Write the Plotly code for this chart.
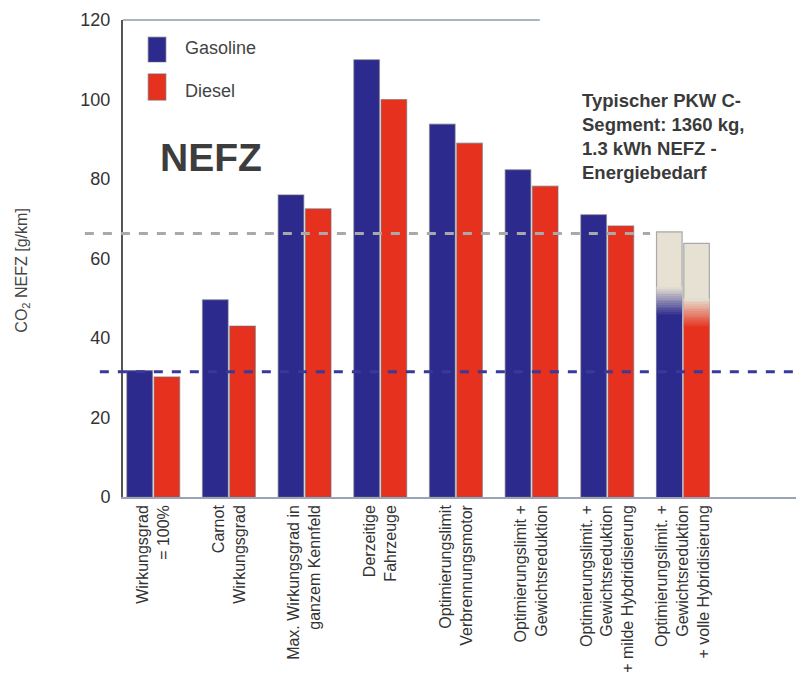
import plotly.graph_objects as go

# categories (x tick labels)
categories = [
    "Wirkungsgrad<br>= 100%",
    "Carnot<br>Wirkungsgrad",
    "Max. Wirkungsgrad in<br>ganzem Kennfeld",
    "Derzeitige<br>Fahrzeuge",
    "Optimierungslimit<br>Verbrennungsmotor",
    "Optimierungslimit +<br>Gewichtsreduktion",
    "Optimierungslimit. +<br>Gewichtsreduktion<br>+ milde Hybdridisierung",
    "Optimierungslimit. +<br>Gewichtsreduktion<br>+ volle Hybridisierung",
]

# CO2 NEFZ [g/km]
gasoline = [31.8, 49.6, 76.0, 110.0, 93.8, 82.3, 71.0, 66.7]
diesel = [30.2, 43.0, 72.5, 100.0, 89.0, 78.2, 68.2, 63.8]

# full hybrid: solid part and where the fade to the cream top ends
hybrid_solid_gasoline = 45.8
hybrid_fade_gasoline = 52.9
hybrid_solid_diesel = 42.8
hybrid_fade_diesel = 50.0

# dashed reference levels
level_grey = 66.3
level_blue = 31.5

BLUE = "#2d2a8e"
RED = "#e5311d"
CREAM = "#e6e1d2"
EDGE = "rgba(110,110,120,0.55)"


def hex_to_rgb(h):
    h = h.lstrip("#")
    return tuple(int(h[i:i + 2], 16) for i in (0, 2, 4))


def mix(c1, c2, t):
    a, b = hex_to_rgb(c1), hex_to_rgb(c2)
    return "rgb({},{},{})".format(*[round(a[i] + (b[i] - a[i]) * t) for i in range(3)])


fig = go.Figure()

n = len(categories)
fig.add_trace(go.Bar(
    x=categories, y=gasoline, name="Gasoline", offsetgroup="gas",
    marker=dict(color=[BLUE] * (n - 1) + [CREAM], line=dict(color=EDGE, width=1.2)),
))
fig.add_trace(go.Bar(
    x=categories, y=diesel, name="Diesel", offsetgroup="die",
    marker=dict(color=[RED] * (n - 1) + [CREAM], line=dict(color=EDGE, width=1.2)),
))


def hybrid_overlay(group, solid, fade_top, color):
    last = categories[-1]
    fig.add_trace(go.Bar(
        x=[last], y=[solid], offsetgroup=group, showlegend=False,
        marker=dict(color=color, line=dict(width=0)),
    ))
    steps = 16
    h = (fade_top - solid) / steps
    for i in range(steps):
        fig.add_trace(go.Bar(
            x=[last], y=[h * 1.05], base=[solid + i * h], offsetgroup=group, showlegend=False,
            marker=dict(color=mix(color, CREAM, (i + 0.5) / steps), line=dict(width=0)),
        ))


hybrid_overlay("gas", hybrid_solid_gasoline, hybrid_fade_gasoline, BLUE)
hybrid_overlay("die", hybrid_solid_diesel, hybrid_fade_diesel, RED)

# dashed reference lines
fig.add_shape(type="line", xref="paper", yref="y", x0=-0.056, x1=0.774,
              y0=level_grey, y1=level_grey, layer="above",
              line=dict(color="#a9a9a9", width=3, dash="dash"))
fig.add_shape(type="line", xref="paper", yref="y", x0=-0.034, x1=1.0,
              y0=level_blue, y1=level_blue, layer="above",
              line=dict(color="#3a3898", width=3, dash="dash"))
# top frame line
fig.add_shape(type="line", xref="paper", yref="paper", x0=0, x1=0.612, y0=1.0, y1=1.0,
              line=dict(color="#8f9cae", width=1.5))

# legend drawn by hand (larger swatches than plotly's)
for name, color, y0, y1, ty in [("Gasoline", BLUE, 0.912, 0.964, 0.941),
                                ("Diesel", RED, 0.832, 0.887, 0.851)]:
    fig.add_shape(type="rect", xref="paper", yref="paper", x0=0.037, x1=0.063,
                  y0=y0, y1=y1, fillcolor=color, line=dict(color=EDGE, width=1.2))
    fig.add_annotation(text=name, xref="paper", yref="paper", x=0.088, y=ty,
                       xanchor="left", yanchor="middle", showarrow=False,
                       font=dict(size=18, color="#444"))

fig.add_annotation(text="<b>NEFZ</b>", xref="paper", yref="paper", x=0.129, y=0.712,
                   xanchor="center", yanchor="middle",
                   showarrow=False, font=dict(size=39, color="#3d3d3d"))
fig.add_annotation(
    text="<b>Typischer PKW C-<br>Segment: 1360 kg,<br>1.3 kWh NEFZ -<br>Energiebedarf</b>",
    xref="paper", yref="paper", x=0.671, y=0.858, xanchor="left", yanchor="top",
    align="left", showarrow=False, font=dict(size=18.5, color="#3a3a3a"),
)
fig.add_annotation(text="CO<sub>2</sub> NEFZ [g/km]", xref="paper", yref="paper",
                   x=-0.148, y=0.475, xanchor="center", yanchor="middle", textangle=-90,
                   showarrow=False, font=dict(size=16, color="#444"))

# the page body adds an 8 px offset, so the figure is 8 px smaller than the window
fig.update_layout(
    width=796, height=676,
    paper_bgcolor="white", plot_bgcolor="white",
    margin=dict(l=115, r=0, t=12, b=187),
    font=dict(family="Liberation Sans, Arial, sans-serif", color="#333"),
    barmode="group", bargap=0.28, bargroupgap=0.06,
    showlegend=False,
    xaxis=dict(range=[-0.4, 8.6], showline=True, linecolor="#9aa4b4", linewidth=1.5,
               ticks="", tickangle=-90, tickfont=dict(size=16, color="#333"),
               showgrid=False, automargin=False),
    yaxis=dict(range=[0, 120], dtick=20, showline=True, linecolor="#555", linewidth=2,
               ticks="", showgrid=False, zeroline=False, ticklabelstandoff=7,
               tickfont=dict(size=18, color="#333"), automargin=False),
)

fig.write_html("out.html")
